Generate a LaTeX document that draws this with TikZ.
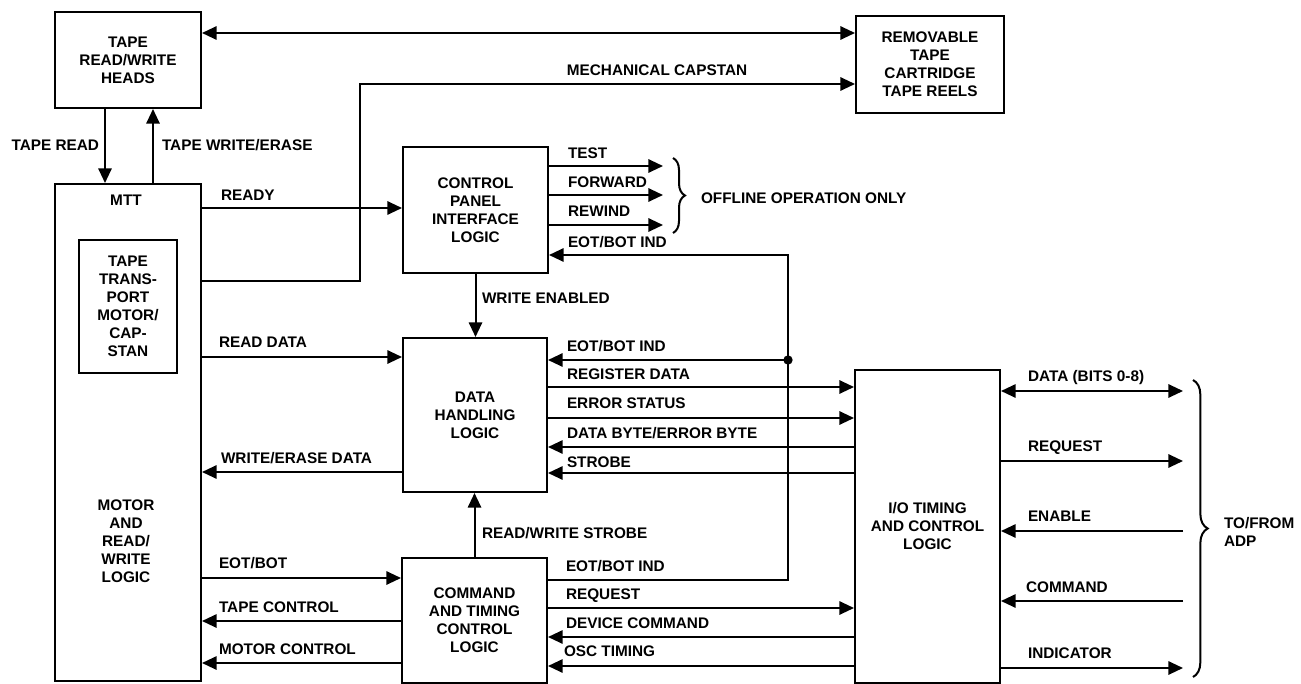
\documentclass[tikz,border=0pt]{standalone}
\usepackage{fontspec}
\setmainfont{Liberation Sans}
\usetikzlibrary{arrows.meta,decorations.pathreplacing}
\begin{document}
\begin{tikzpicture}[x=0.75pt,y=-0.75pt,
  font=\bfseries\fontsize{11.5}{13.5}\selectfont,
  line width=1.5pt,
  >={Triangle[length=11pt,width=10pt]},
  bx/.style 2 args={draw, line width=1.5pt, minimum width=#1*0.75pt, minimum height=#2*0.75pt, inner sep=0pt, align=center},
  lbl/.style={anchor=west, inner sep=0pt, text height=8.4pt, text depth=0pt},
  lblr/.style={anchor=east, inner sep=0pt, text height=8.4pt, text depth=0pt},
  txt/.style={align=center, inner sep=0pt},
  brc/.style={decorate, decoration={brace, amplitude=#1}, line width=1.5pt}
]
\useasboundingbox (0,0) rectangle (1301,684);

% boxes
\node[bx={146}{96}] (heads) at (128,60) {TAPE\\READ/WRITE\\HEADS};
\node[bx={148}{97}] (rem) at (930,64.5) {REMOVABLE\\TAPE\\CARTRIDGE\\TAPE REELS};
\node[bx={146}{497}] (mtt) at (128,432.5) {};
\node[txt] (mttl) at (126,200) {MTT};
\node[bx={98}{133}] (ttm) at (128,306.5) {TAPE\\TRANS-\\PORT\\MOTOR/\\CAP-\\STAN};
\node[txt] (mrw) at (126,541) {MOTOR\\AND\\READ/\\WRITE\\LOGIC};
\node[bx={145}{126}] (cp) at (475.5,210) {CONTROL\\PANEL\\INTERFACE\\LOGIC};
\node[bx={144}{154}] (dh) at (475,415) {DATA\\HANDLING\\LOGIC};
\node[bx={145}{125}] (ct) at (474.5,620.5) {COMMAND\\AND TIMING\\CONTROL\\LOGIC};
\node[bx={145}{313}] (io) at (927.5,526.5) {I/O TIMING\\AND CONTROL\\LOGIC};

% top connectors
\draw[<->] (heads.east |- 0,33) -- (rem.west |- 0,33);
\coordinate (capk) at (360,84);
\draw[->] (mtt.east |- 0,281) -| (capk) -- (rem.west |- capk);
\node[txt] (mcl) at (657,70) {MECHANICAL CAPSTAN};

\draw[->] (heads.south -| 105,0) -- (mtt.north -| 105,0);
\draw[->] (mtt.north -| 153,0) -- (heads.south -| 153,0);
\node[lblr] (trl) at (100,145) {TAPE READ};
\node[lbl] (twl) at (161,145) {TAPE WRITE/ERASE};

% ready
\draw[->] (mtt.east |- 0,208) -- (cp.west |- 0,208);
\node[lbl] (rdyl) at (220,195) {READY};

% control panel outputs
\coordinate (tx) at (663,0);
\draw[->] (cp.east |- 0,166) -- (tx |- 0,166);
\draw[->] (cp.east |- 0,195) -- (tx |- 0,195);
\draw[->] (cp.east |- 0,225) -- (tx |- 0,225);
\node[lbl] (testl) at (567,153) {TEST};
\node[lbl] (fwdl) at (567,182) {FORWARD};
\node[lbl] (rwl) at (567,211) {REWIND};
\draw[brc=9pt] (673,158) -- (673,233);
\node[lbl] (offl) at (700,198) {OFFLINE OPERATION ONLY};

% EOT/BOT IND loop
\coordinate (vtop) at (788,255);
\coordinate (jn) at (788,360);
\draw[->] (ct.east |- 0,580) -| (vtop) -- (cp.east |- vtop);
\draw[->] (jn) -- (dh.east |- jn);
\fill (jn) circle[radius=3.5pt];
\node[lbl] (eot1) at (567,242) {EOT/BOT IND};
\node[lbl] (eot2) at (566,346) {EOT/BOT IND};
\node[lbl] (eot3) at (565,566) {EOT/BOT IND};

% vertical links
\draw[->] (cp.south) -- (cp.south |- dh.north);
\node[lbl] (wel) at (481,298) {WRITE ENABLED};
\draw[->] (ct.north) -- (ct.north |- dh.south);
\node[lbl] (rwsl) at (481,533) {READ/WRITE STROBE};

% left connectors
\draw[->] (mtt.east |- 0,357) -- (dh.west |- 0,357);
\node[lbl] (rdl) at (218,342) {READ DATA};
\draw[->] (dh.west |- 0,472) -- (mtt.east |- 0,472);
\node[lbl] (wedl) at (220,458) {WRITE/ERASE DATA};
\draw[->] (mtt.east |- 0,578) -- (ct.west |- 0,578);
\node[lbl] (ebl) at (218,563) {EOT/BOT};
\draw[->] (ct.west |- 0,621) -- (mtt.east |- 0,621);
\node[lbl] (tcl) at (218,607) {TAPE CONTROL};
\draw[->] (ct.west |- 0,663) -- (mtt.east |- 0,663);
\node[lbl] (mcl2) at (218,649) {MOTOR CONTROL};

% middle connectors
\draw[->] (dh.east |- 0,387) -- (io.west |- 0,387);
\node[lbl] (regl) at (566,374) {REGISTER DATA};
\draw[->] (dh.east |- 0,418) -- (io.west |- 0,418);
\node[lbl] (errl) at (566,403) {ERROR STATUS};
\draw[->] (io.west |- 0,447) -- (dh.east |- 0,447);
\node[lbl] (dbl) at (566,433) {DATA BYTE/ERROR BYTE};
\draw[->] (io.west |- 0,473) -- (dh.east |- 0,473);
\node[lbl] (strl) at (566,462) {STROBE};
\draw[->] (ct.east |- 0,608) -- (io.west |- 0,608);
\node[lbl] (reql) at (565,594) {REQUEST};
\draw[->] (io.west |- 0,637) -- (ct.east |- 0,637);
\node[lbl] (dcl) at (565,623) {DEVICE COMMAND};
\draw[->] (io.west |- 0,666) -- (ct.east |- 0,666);
\node[lbl] (oscl) at (563,651) {OSC TIMING};

% right connectors
\coordinate (rx) at (1183,0);
\draw[<->] (io.east |- 0,391) -- (rx |- 0,391);
\node[lbl] (datl) at (1027,376) {DATA (BITS 0-8)};
\draw[->] (io.east |- 0,461) -- (rx |- 0,461);
\node[lbl] (rql) at (1027,446) {REQUEST};
\draw[->] (rx |- 0,531) -- (io.east |- 0,531);
\node[lbl] (enl) at (1027,516) {ENABLE};
\draw[->] (rx |- 0,601) -- (io.east |- 0,601);
\node[lbl] (cml) at (1025,587) {COMMAND};
\draw[->] (io.east |- 0,668) -- (rx |- 0,668);
\node[lbl] (indl) at (1027,653) {INDICATOR};
\draw[brc=11pt] (1193,380) -- (1193,677);
\node[anchor=west, align=left, inner sep=0pt] (adp) at (1223,531.5) {TO/FROM\\ADP};
\end{tikzpicture}
\end{document}
